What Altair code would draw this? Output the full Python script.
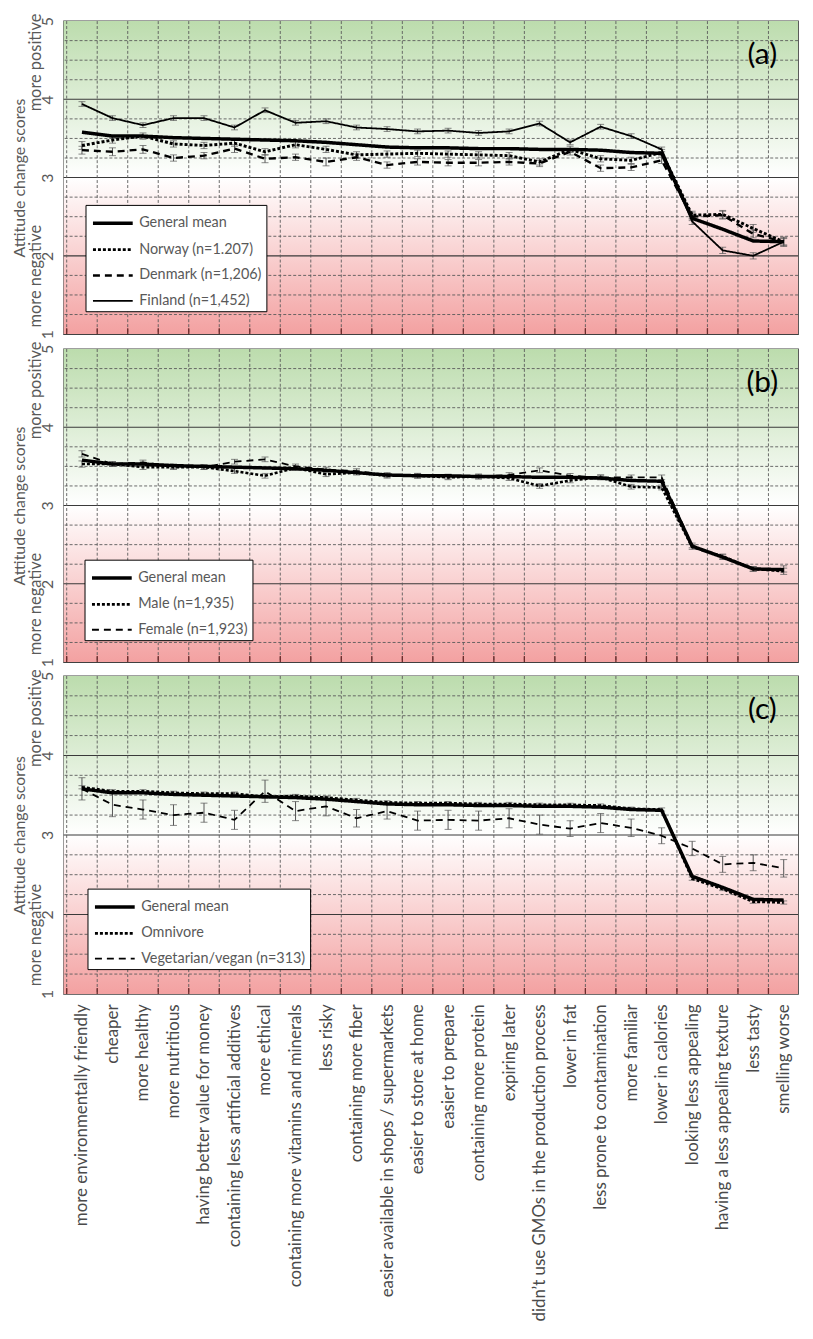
import json
import altair as alt
import pandas as pd

categories = [
    "more environmentally friendly", "cheaper", "more healthy", "more nutritious",
    "having better value for money", "containing less artificial additives", "more ethical",
    "containing more vitamins and minerals", "less risky", "containing more fiber",
    "easier available in shops / supermarkets", "easier to store at home", "easier to prepare",
    "containing more protein", "expiring later", "didn\u2019t use GMOs in the production process",
    "lower in fat", "less prone to contamination", "more familiar", "lower in calories",
    "looking less appealing", "having a less appealing texture", "less tasty", "smelling worse",
]

general_mean = [3.58, 3.53, 3.53, 3.51, 3.50, 3.49, 3.48, 3.47, 3.45, 3.42, 3.39, 3.38,
                3.38, 3.37, 3.37, 3.36, 3.36, 3.35, 3.32, 3.31, 2.48, 2.34, 2.19, 2.18]

norway = [3.41, 3.48, 3.53, 3.43, 3.41, 3.44, 3.33, 3.42, 3.36, 3.29, 3.30, 3.31,
          3.30, 3.29, 3.28, 3.20, 3.36, 3.24, 3.22, 3.32, 2.52, 2.53, 2.35, 2.18]
denmark = [3.35, 3.33, 3.36, 3.25, 3.28, 3.37, 3.24, 3.26, 3.20, 3.26, 3.16, 3.20,
           3.19, 3.19, 3.20, 3.18, 3.33, 3.12, 3.13, 3.22, 2.50, 2.52, 2.28, 2.18]
finland = [3.94, 3.76, 3.67, 3.76, 3.76, 3.64, 3.86, 3.70, 3.72, 3.64, 3.62, 3.59,
           3.60, 3.57, 3.59, 3.69, 3.45, 3.65, 3.53, 3.36, 2.44, 2.07, 2.00, 2.18]

male = [3.53, 3.53, 3.49, 3.49, 3.49, 3.44, 3.38, 3.48, 3.40, 3.42, 3.38, 3.38,
        3.36, 3.37, 3.35, 3.25, 3.32, 3.36, 3.24, 3.23, 2.47, 2.35, 2.19, 2.16]
female = [3.66, 3.53, 3.55, 3.50, 3.49, 3.56, 3.59, 3.50, 3.46, 3.44, 3.39, 3.38,
          3.37, 3.37, 3.39, 3.45, 3.38, 3.36, 3.36, 3.36, 2.49, 2.34, 2.19, 2.19]

omnivore = [3.60, 3.55, 3.55, 3.53, 3.52, 3.52, 3.48, 3.49, 3.47, 3.44, 3.41, 3.40,
            3.40, 3.39, 3.39, 3.38, 3.38, 3.37, 3.33, 3.32, 2.45, 2.32, 2.16, 2.15]
vegetarian = [3.58, 3.38, 3.32, 3.25, 3.28, 3.19, 3.55, 3.30, 3.36, 3.21, 3.30, 3.18,
              3.19, 3.18, 3.21, 3.13, 3.08, 3.15, 3.09, 2.99, 2.83, 2.63, 2.65, 2.58]

# error bar half-widths
err_norway = [0.05, 0.04, 0.04, 0.04, 0.04, 0.04, 0.04, 0.04, 0.04, 0.04, 0.04, 0.04,
              0.04, 0.04, 0.04, 0.04, 0.04, 0.04, 0.04, 0.04, 0.05, 0.05, 0.05, 0.05]
err_denmark = [0.05, 0.05, 0.05, 0.04, 0.04, 0.05, 0.05, 0.04, 0.05, 0.04, 0.04, 0.04,
               0.04, 0.04, 0.04, 0.04, 0.04, 0.04, 0.04, 0.04, 0.05, 0.05, 0.05, 0.06]
err_finland = [0.03, 0.03, 0.03, 0.03, 0.03, 0.03, 0.03, 0.03, 0.03, 0.03, 0.03, 0.03,
               0.03, 0.03, 0.03, 0.03, 0.03, 0.03, 0.03, 0.03, 0.04, 0.04, 0.04, 0.04]
err_male = [0.04, 0.03, 0.03, 0.03, 0.03, 0.03, 0.03, 0.03, 0.03, 0.03, 0.03, 0.03,
            0.03, 0.03, 0.03, 0.03, 0.03, 0.03, 0.03, 0.03, 0.03, 0.03, 0.03, 0.04]
err_female = [0.04, 0.03, 0.03, 0.03, 0.03, 0.03, 0.03, 0.03, 0.03, 0.03, 0.03, 0.03,
              0.03, 0.03, 0.03, 0.03, 0.03, 0.03, 0.03, 0.03, 0.03, 0.03, 0.03, 0.04]
err_omnivore = [0.02] * 24
err_vegetarian = [0.14, 0.15, 0.12, 0.13, 0.12, 0.12, 0.14, 0.12, 0.12, 0.11, 0.10, 0.12,
                  0.12, 0.12, 0.12, 0.12, 0.10, 0.12, 0.11, 0.10, 0.09, 0.10, 0.10, 0.11]

panels = [
    {"tag": "(a)",
     "names": ["General mean", "Norway (n=1.207)", "Denmark (n=1,206)", "Finland (n=1,452)"],
     "values": [general_mean, norway, denmark, finland],
     "errors": [None, err_norway, err_denmark, err_finland],
     "dashes": [[1, 0], [3, 2], [7, 5], [1, 0]],
     "widths": [3.5, 1.8, 1.8, 1.3],
     "legend": (22, 185), "height": 315},
    {"tag": "(b)",
     "names": ["General mean", "Male (n=1,935)", "Female (n=1,923)"],
     "values": [general_mean, male, female],
     "errors": [None, err_male, err_female],
     "dashes": [[1, 0], [3, 2], [7, 5]],
     "widths": [3.5, 1.8, 1.8],
     "legend": (21, 212), "height": 315},
    {"tag": "(c)",
     "names": ["General mean", "Omnivore", "Vegetarian/vegan (n=313)"],
     "values": [general_mean, omnivore, vegetarian],
     "errors": [None, err_omnivore, err_vegetarian],
     "dashes": [[1, 0], [3, 2], [7, 5]],
     "widths": [3.5, 1.8, 1.8],
     "legend": (24, 214), "height": 320},
]

W = 739
X_DOMAIN = [-0.6, 23.47]
Y_DOMAIN = [1, 5]
FONT = "Lato"
GREY = "#595959"

y_ticks = [1 + 0.25 * i for i in range(17)]
minor_lines = [v for v in y_ticks if v % 1 != 0]
major_lines = [v for v in y_ticks if v % 1 == 0 and 1 < v < 5]
boundaries = [i - 0.5 for i in range(len(categories))]


def xs(field, bottom=False):
    if bottom:
        axis = alt.Axis(
            values=list(range(len(categories))),
            labelExpr=json.dumps(categories, ensure_ascii=False) + "[datum.value]",
            labelAngle=-90, labelAlign="right", labelBaseline="middle",
            labelFontSize=17, labelFont=FONT, labelColor="#4a4a4a",
            labelLimit=420, labelOverlap=False, labelPadding=10,
            ticks=False, domain=False, grid=False, title=None,
        )
    else:
        axis = None
    return alt.X(field, type="quantitative",
                 scale=alt.Scale(domain=X_DOMAIN, nice=False, zero=False), axis=axis)


def ys(field):
    axis = alt.Axis(
        values=y_ticks, grid=False, ticks=False, domain=False,
        labelExpr="datum.value % 1 === 0 ? format(datum.value, 'd') : ''",
        labelAngle=270, labelAlign="center", labelBaseline="bottom",
        labelPadding=8, labelFontSize=16, labelFont=FONT, labelColor=GREY,
        title="Attitude change scores", titleFontSize=16, titleFont=FONT,
        titleFontWeight="normal", titleColor=GREY, titlePadding=12,
    )
    return alt.Y(field, type="quantitative",
                 scale=alt.Scale(domain=Y_DOMAIN, nice=False, zero=False), axis=axis)


gradient = alt.LinearGradient(
    gradient="linear",
    stops=[alt.GradientStop(color="#bcdcad", offset=0),
           alt.GradientStop(color="#ffffff", offset=0.5),
           alt.GradientStop(color="#f3a1a1", offset=1)],
    x1=0, x2=0, y1=0, y2=1,
)


def make_panel(p, bottom):
    H = p["height"]
    bg = alt.Chart(pd.DataFrame({"top": [Y_DOMAIN[1]], "bottom": [Y_DOMAIN[0]]})).mark_rect(
        fill=gradient).encode(
        x=alt.value(0), x2=alt.value(W), y=ys("top"), y2=alt.Y2("bottom"))

    minor = alt.Chart(pd.DataFrame({"v": minor_lines})).mark_rule(
        color="#5a5a5a", strokeWidth=0.9, strokeDash=[3, 2]).encode(y=ys("v"))
    major = alt.Chart(pd.DataFrame({"v": major_lines})).mark_rule(
        color="#3a3a3a", strokeWidth=1.1).encode(y=ys("v"))
    vgrid = alt.Chart(pd.DataFrame({"b": boundaries})).mark_rule(
        color="#5a5a5a", strokeWidth=0.9, strokeDash=[3, 2]).encode(x=xs("b", bottom))
    bticks = alt.Chart(pd.DataFrame({"b": boundaries})).mark_rule(
        color="#6b2a2a", strokeWidth=1.3).encode(
        x=xs("b", bottom), y=alt.value(H), y2=alt.value(H - 6))

    rows = []
    err_rows = []
    for name, vals, errs in zip(p["names"], p["values"], p["errors"]):
        for i, v in enumerate(vals):
            rows.append({"idx": i, "value": v, "series": name})
            if errs is not None:
                err_rows.append({"idx": i, "lo": v - errs[i], "hi": v + errs[i], "series": name})
    df = pd.DataFrame(rows)
    edf = pd.DataFrame(err_rows)

    ebar = alt.Chart(edf).mark_rule(color="#555555", strokeWidth=1).encode(
        x=xs("idx", bottom), y=ys("lo"), y2=alt.Y2("hi"))
    cap_lo = alt.Chart(edf).mark_tick(color="#555555", orient="horizontal", size=7,
                                      thickness=1).encode(x=xs("idx", bottom), y=ys("lo"))
    cap_hi = alt.Chart(edf).mark_tick(color="#555555", orient="horizontal", size=7,
                                      thickness=1).encode(x=xs("idx", bottom), y=ys("hi"))

    lx, ly = p["legend"]
    leg = alt.Legend(
        title=None, orient="none", legendX=lx, legendY=ly,
        fillColor="white", strokeColor="black", padding=4,
        symbolType="M-1.6,0H1.6", symbolSize=625, symbolStrokeColor="black",
        symbolOffset=9,
        labelFont=FONT, labelFontSize=14.5, labelColor=GREY, labelOffset=12,
        rowPadding=5, labelLimit=300,
    )
    lines = alt.Chart(df).mark_line(color="black").encode(
        x=xs("idx", bottom), y=ys("value"),
        strokeDash=alt.StrokeDash("series:N", scale=alt.Scale(domain=p["names"], range=p["dashes"]),
                                  legend=leg),
        strokeWidth=alt.StrokeWidth("series:N", scale=alt.Scale(domain=p["names"], range=p["widths"]),
                                    legend=leg),
    )

    side = alt.Chart(pd.DataFrame({"t": ["more positive", "more negative"], "v": [4.47, 1.74]})).mark_text(
        angle=270, fontSize=16.5, font=FONT, color=GREY, align="center", baseline="middle").encode(
        x=alt.value(-28), y=ys("v"), text="t:N")

    tag = alt.Chart(pd.DataFrame({"t": [p["tag"]]})).mark_text(
        fontSize=30, font=FONT, color="black", align="center", baseline="middle").encode(
        x=alt.value(703), y=alt.value(34), text="t:N")

    return alt.layer(bg, minor, major, vgrid, bticks, ebar, cap_lo, cap_hi, lines, side, tag).properties(
        width=W, height=H)


charts = [make_panel(p, i == len(panels) - 1) for i, p in enumerate(panels)]

chart = alt.vconcat(*charts, spacing=0).resolve_scale(
    strokeDash="independent", strokeWidth="independent"
).resolve_legend(
    strokeDash="independent", strokeWidth="independent"
).properties(
    padding={"left": 3, "top": 0, "right": 5, "bottom": 0}
).configure_view(
    stroke="#404040", strokeWidth=1.3
)

chart.save("out.html", embed_options={"renderer": "svg", "actions": False})
